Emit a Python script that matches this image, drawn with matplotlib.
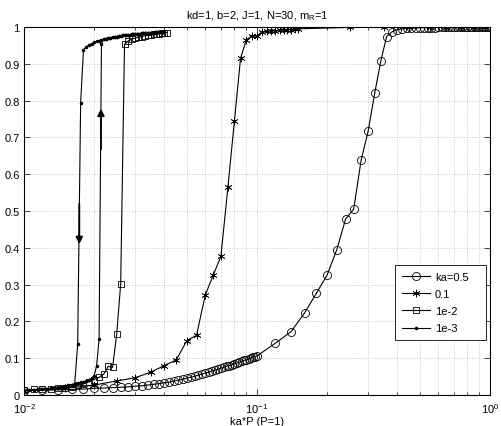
import matplotlib
matplotlib.use("Agg")
import matplotlib.pyplot as plt
from matplotlib.ticker import FixedLocator, LogLocator, NullFormatter, FuncFormatter

plt.rcParams['font.family'] = ['Liberation Sans', 'DejaVu Sans']
plt.rcParams['mathtext.default'] = 'regular'

# ---------------- data ----------------
title_text = 'kd=1, b=2, J=1, N=30, m$_{R}$=1'
xlabel_text = 'ka*P (P=1)'
legend_labels = ['ka=0.5', '0.1', '1e-2', '1e-3']

# ka = 0.5 (circles)
circ_x = [0.010, 0.012, 0.014, 0.016, 0.018, 0.020, 0.022, 0.024, 0.026, 0.028,
          0.030, 0.032, 0.034, 0.036, 0.038, 0.040, 0.042, 0.044, 0.046, 0.048,
          0.050, 0.052, 0.054, 0.056, 0.058, 0.060, 0.062, 0.064, 0.066, 0.068,
          0.070, 0.072, 0.074, 0.076, 0.078, 0.080, 0.082, 0.084, 0.086, 0.088,
          0.090, 0.092, 0.094, 0.096, 0.098, 0.100,
          0.12, 0.14, 0.16, 0.18, 0.20, 0.22, 0.24, 0.26, 0.28, 0.30,
          0.32, 0.34, 0.36, 0.38, 0.40, 0.42, 0.44, 0.46, 0.48, 0.50,
          0.52, 0.54, 0.56, 0.58, 0.60, 0.62, 0.64, 0.66, 0.68, 0.70,
          0.72, 0.74, 0.76, 0.78, 0.80, 0.82, 0.84, 0.86, 0.88, 0.90,
          0.92, 0.94, 0.96, 0.98, 1.00]
circ_y = [0.012, 0.013, 0.014, 0.015, 0.016, 0.018, 0.019, 0.020, 0.021, 0.022,
          0.024, 0.025, 0.027, 0.029, 0.031, 0.033, 0.035, 0.038, 0.040, 0.043,
          0.046, 0.048, 0.051, 0.054, 0.057, 0.060, 0.062, 0.065, 0.068, 0.070,
          0.073, 0.075, 0.078, 0.080, 0.082, 0.085, 0.087, 0.089, 0.092, 0.094,
          0.096, 0.098, 0.101, 0.103, 0.104, 0.106,
          0.141, 0.172, 0.223, 0.277, 0.326, 0.395, 0.478, 0.505, 0.639, 0.717,
          0.820, 0.908, 0.974, 0.987, 0.993, 0.995, 0.996, 0.997, 0.997, 0.998,
          0.998, 0.998, 0.998, 0.998, 0.999, 0.999, 0.999, 0.999, 0.999, 0.999,
          0.999, 0.999, 0.999, 0.999, 0.999, 0.999, 0.999, 0.999, 0.999, 0.999,
          0.999, 0.999, 0.999, 0.999, 0.999]

# ka = 0.1 (asterisks)
star_x = [0.010, 0.015, 0.020, 0.025, 0.030, 0.035, 0.040, 0.045, 0.050, 0.055,
          0.060, 0.065, 0.070, 0.075, 0.080, 0.085, 0.090, 0.095, 0.100, 0.105,
          0.110, 0.115, 0.120, 0.125, 0.130, 0.135, 0.140, 0.145, 0.150,
          0.25, 0.35, 0.45, 0.55, 0.65, 0.75, 0.85, 0.95]
star_y = [0.012, 0.018, 0.027, 0.038, 0.047, 0.062, 0.080, 0.095, 0.148, 0.162,
          0.272, 0.327, 0.377, 0.564, 0.745, 0.915, 0.965, 0.976, 0.975, 0.987,
          0.988, 0.989, 0.990, 0.991, 0.992, 0.993, 0.993, 0.994, 0.995,
          0.999, 1.000, 1.000, 1.000, 1.000, 1.000, 1.000, 1.000]

# ka = 1e-2 (squares)
sq_x = [0.010, 0.011, 0.012, 0.013, 0.014, 0.015, 0.016, 0.017, 0.018, 0.019,
        0.020, 0.021, 0.022, 0.023, 0.024, 0.025, 0.026, 0.027, 0.028, 0.029,
        0.030, 0.031, 0.032, 0.033, 0.034, 0.035, 0.036, 0.037, 0.038, 0.039,
        0.040, 0.041]
sq_y = [0.013, 0.015, 0.016, 0.017, 0.019, 0.020, 0.022, 0.026, 0.030, 0.036,
        0.042, 0.048, 0.057, 0.078, 0.075, 0.166, 0.302, 0.953, 0.962, 0.967,
        0.970, 0.972, 0.974, 0.976, 0.977, 0.978, 0.980, 0.981, 0.982, 0.983,
        0.984, 0.985]

# ka = 1e-3 (dots): lower branch, upper branch, and the two jumps (hysteresis)
dot_low_x = [0.0100, 0.0105, 0.0110, 0.0115, 0.0120, 0.0125, 0.0130, 0.0135,
             0.0140, 0.0145, 0.0150, 0.0155, 0.0160, 0.0165, 0.0170, 0.0175,
             0.0180, 0.0185, 0.0190, 0.0195, 0.0200, 0.0205, 0.0210]
dot_low_y = [0.012, 0.013, 0.014, 0.015, 0.016, 0.017, 0.018, 0.019,
             0.020, 0.022, 0.024, 0.026, 0.028, 0.030, 0.032, 0.034,
             0.036, 0.039, 0.042, 0.046, 0.052, 0.080, 0.152]
dot_up_x = [0.0180, 0.0185, 0.0190, 0.0195, 0.0200, 0.0205, 0.0210, 0.0215,
            0.0220, 0.0225, 0.0230, 0.0235, 0.0240, 0.0245, 0.0250, 0.0255,
            0.0260, 0.0265, 0.0270, 0.0275, 0.0280, 0.0285, 0.0290, 0.0295,
            0.0300, 0.0305, 0.0310, 0.0315, 0.0320, 0.0325, 0.0330, 0.0335,
            0.0340, 0.0345, 0.0350, 0.0355, 0.0360, 0.0365, 0.0370, 0.0375,
            0.0380, 0.0385, 0.0390, 0.0395, 0.0400]
dot_up_y = [0.938, 0.946, 0.951, 0.955, 0.958, 0.961, 0.963, 0.965,
            0.967, 0.968, 0.970, 0.971, 0.972, 0.973, 0.974, 0.975,
            0.976, 0.977, 0.977, 0.978, 0.979, 0.979, 0.980, 0.980,
            0.981, 0.981, 0.982, 0.982, 0.983, 0.983, 0.983, 0.984,
            0.984, 0.984, 0.985, 0.985, 0.985, 0.986, 0.986, 0.986,
            0.986, 0.987, 0.987, 0.987, 0.987]
dot_jump_up_x, dot_jump_up_y = [0.0215], [0.954]
dot_drop_x, dot_drop_y = [0.0175, 0.0170], [0.794, 0.138]

# hysteresis arrows (x, y_from, y_to)
arrow_down = (0.01727, 0.52, 0.41)
arrow_up = (0.02140, 0.668, 0.778)

# ------------- assemble the 1e-3 sweep (forward then backward) -------------
fwd_x = dot_low_x + dot_jump_up_x + [x for x in dot_up_x if x > 0.0215]
fwd_y = dot_low_y + dot_jump_up_y + [y for x, y in zip(dot_up_x, dot_up_y) if x > 0.0215]
bwd_x = dot_up_x[::-1] + dot_drop_x + [x for x in dot_low_x if x <= 0.0165][::-1]
bwd_y = dot_up_y[::-1] + dot_drop_y + [y for x, y in zip(dot_low_x, dot_low_y) if x <= 0.0165][::-1]
dot_x = fwd_x + bwd_x
dot_y = fwd_y + bwd_y

# ---------------- figure ----------------
W, H = 501, 427
fig = plt.figure(figsize=(W / 100, H / 100), dpi=100)
ax = fig.add_axes([24 / W, 31 / H, 466 / W, 368 / H])

lw = 0.8
ax.plot(circ_x, circ_y, color='k', lw=lw, marker='o', ms=5.8, mfc='none',
        mew=0.6, label=legend_labels[0])
ax.plot(star_x, star_y, color='k', lw=lw, marker=(6, 2, 0), ms=5.5,
        mew=0.5, label=legend_labels[1])
ax.plot(sq_x, sq_y, color='k', lw=lw, marker='s', ms=4.5, mfc='none',
        mew=0.6, label=legend_labels[2])
ax.plot(dot_x, dot_y, color='k', lw=lw, marker='.', ms=3, label=legend_labels[3])

for (ax_x, y0, y1) in (arrow_down, arrow_up):
    ax.annotate('', xy=(ax_x, y1), xytext=(ax_x, y0),
                arrowprops=dict(arrowstyle='-|>', color='k', lw=1.3,
                                mutation_scale=10, shrinkA=0, shrinkB=0))

ax.set_xscale('log')
ax.set_xlim(0.01, 1)
ax.set_ylim(0, 1)

ax.yaxis.set_major_locator(FixedLocator([i / 10 for i in range(11)]))
ax.yaxis.set_major_formatter(FuncFormatter(lambda v, p: '%g' % round(v, 1)))
ax.xaxis.set_major_locator(FixedLocator([0.01, 0.1, 1]))
ax.xaxis.set_major_formatter(FuncFormatter(
    lambda v, p: {0.01: '$10^{-2}$', 0.1: '$10^{-1}$', 1: '$10^{0}$'}.get(round(v, 2), '')))
ax.xaxis.set_minor_locator(LogLocator(base=10, subs=range(2, 10)))
ax.xaxis.set_minor_formatter(NullFormatter())

ax.grid(True, which='major', color='#b4b4b4', linestyle=(0, (1, 2)), lw=0.6)
ax.grid(True, which='minor', axis='x', color='#b4b4b4', linestyle=(0, (1, 2)), lw=0.6)
ax.set_axisbelow(True)

ax.tick_params(which='both', direction='in', top=True, right=True,
               labelsize=8, width=0.5)
ax.tick_params(axis='y', which='major', pad=3)
ax.tick_params(axis='x', which='major', pad=4.5)
ax.tick_params(which='major', length=4)
ax.tick_params(which='minor', length=2)
for s in ax.spines.values():
    s.set_linewidth(0.8)

ax.set_title(title_text, fontsize=8, pad=6)
ax.set_xlabel(xlabel_text, fontsize=8, labelpad=1)

leg = ax.legend(loc='upper left', bbox_to_anchor=(0.796, 0.149, 0.195, 0.203),
                mode='expand', borderaxespad=0, fontsize=8, numpoints=1,
                handlelength=2.6, handletextpad=0.4, labelspacing=0.64,
                borderpad=0.6, fancybox=False, framealpha=1, edgecolor='k')
leg.get_frame().set_linewidth(0.6)

fig.savefig('out.png', dpi=100)
